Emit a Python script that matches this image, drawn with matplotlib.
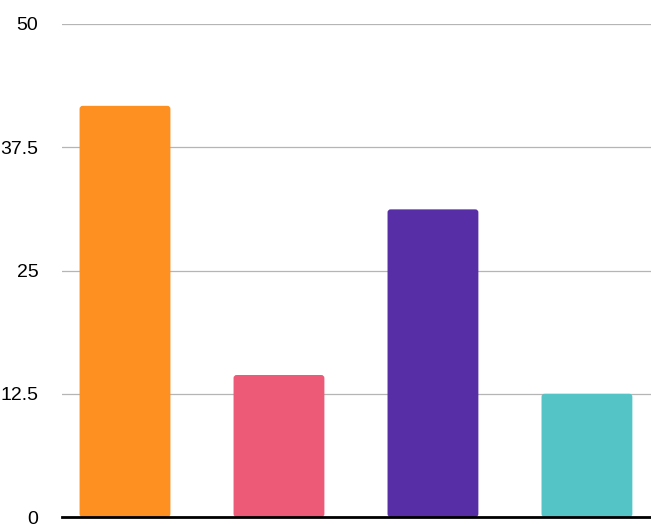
import matplotlib.pyplot as plt
from matplotlib.patches import FancyBboxPatch

# Data
categories = ["A", "B", "C", "D"]
values = [41.7, 14.4, 31.2, 12.5]
colors = ["#FD9020", "#EC5A77", "#572EA5", "#55C4C6"]
yticks = [0, 12.5, 25, 37.5, 50]
ytick_labels = ["0", "12.5", "25", "37.5", "50"]

plt.rcParams['font.family'] = ['Liberation Sans', 'DejaVu Sans']

fig = plt.figure(figsize=(6.51, 5.24), dpi=100)
ax = fig.add_axes([62 / 651, 7 / 524, 589 / 651, 493 / 524])

x = range(len(categories))
bars = ax.bar(x, values, width=0.59, color=colors, zorder=2)

# swap plain rectangles for slightly rounded ones
for rect, c in zip(bars, colors):
    bx, by = rect.get_x(), rect.get_y()
    bw, bh = rect.get_width(), rect.get_height()
    rect.set_visible(False)
    ax.add_patch(FancyBboxPatch((bx, by), bw, bh,
                                boxstyle="round,pad=0,rounding_size=0.02",
                                mutation_aspect=15.6,
                                facecolor=c, edgecolor="none", zorder=2))

ax.set_xlim(-0.409, 3.416)
ax.set_ylim(0, 50)
ax.set_yticks(yticks)
ax.set_yticklabels(ytick_labels, fontsize=14)
ax.set_xticks([])
ax.tick_params(axis='y', length=0, pad=17)

ax.grid(axis='y', color='#b5b5b5', linewidth=0.9, zorder=0)
for s in ['top', 'right', 'left']:
    ax.spines[s].set_visible(False)
ax.spines['bottom'].set_linewidth(2)
ax.spines['bottom'].set_color('black')
ax.spines['bottom'].set_zorder(3)

fig.savefig("out.png", dpi=100)
